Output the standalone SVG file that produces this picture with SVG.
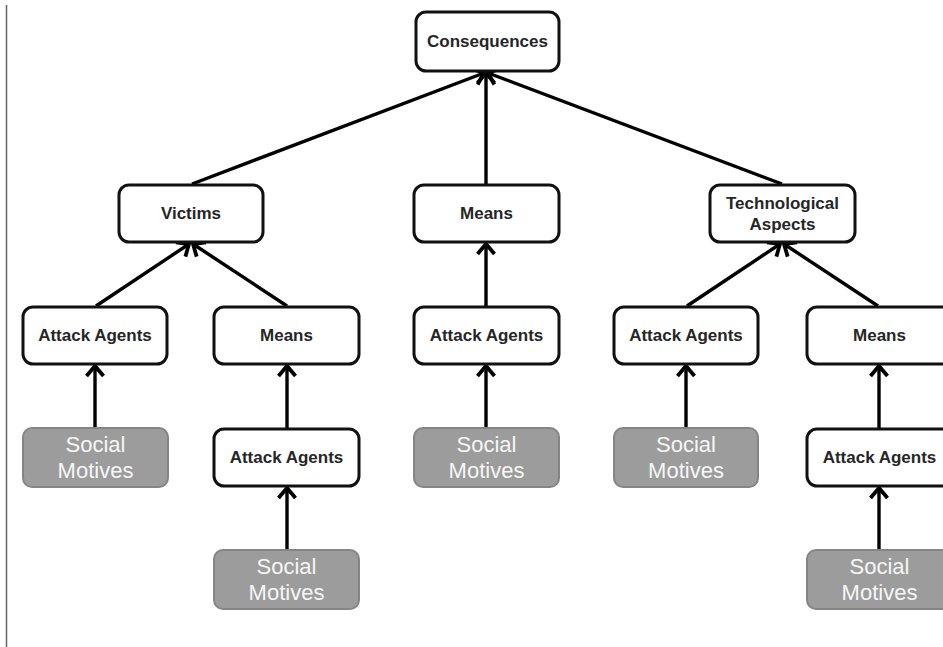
<svg xmlns="http://www.w3.org/2000/svg" width="943" height="647" viewBox="0 0 943 647">
  <style>
    .box { fill: #ffffff; stroke: #111111; stroke-width: 3; }
    .root { fill: #9c9c9c; stroke: #858585; stroke-width: 2; }
    .lbl { font-family: "Liberation Sans", Arial, sans-serif; font-weight: bold; font-size: 17px; fill: #262626; text-anchor: middle; }
    .root-lbl { font-family: "Liberation Sans", Arial, sans-serif; font-size: 22px; fill: #f7f7f7; text-anchor: middle; }
    .edge { stroke: #000000; stroke-width: 3.4; fill: none; marker-end: url(#chev); }
  </style>
  <defs>
    <marker id="chev" markerUnits="userSpaceOnUse" markerWidth="22" markerHeight="24" viewBox="-14 -12 16 24" refX="0" refY="0" orient="auto">
      <path d="M-10,-8.5 L0,0 L-10,8.5" fill="none" stroke="#000000" stroke-width="3.8" stroke-linejoin="miter"/>
    </marker>
  </defs>
  <rect width="943" height="647" fill="#ffffff"/>
  <!-- left margin rule -->
  <line x1="6.5" y1="5" x2="6.5" y2="647" stroke="#666666" stroke-width="1.5"/>

  <g id="connectors">
    <!-- into Consequences -->
    <line class="edge" x1="192" y1="184" x2="484" y2="73"/>
    <line class="edge" x1="486" y1="184" x2="486" y2="73"/>
    <line class="edge" x1="782" y1="184" x2="488" y2="73"/>
    <!-- into Victims -->
    <line class="edge" x1="96" y1="306" x2="189" y2="244"/>
    <line class="edge" x1="287" y1="306" x2="193" y2="244"/>
    <!-- into Means (middle) -->
    <line class="edge" x1="486" y1="306" x2="486" y2="244"/>
    <!-- into Technological Aspects -->
    <line class="edge" x1="687" y1="306" x2="780" y2="244"/>
    <line class="edge" x1="878" y1="306" x2="784" y2="244"/>
    <!-- vertical chains -->
    <line class="edge" x1="95" y1="428" x2="95" y2="366"/>
    <line class="edge" x1="287" y1="428" x2="287" y2="366"/>
    <line class="edge" x1="287" y1="550" x2="287" y2="488"/>
    <line class="edge" x1="486" y1="428" x2="486" y2="366"/>
    <line class="edge" x1="686" y1="428" x2="686" y2="366"/>
    <line class="edge" x1="879" y1="428" x2="879" y2="366"/>
    <line class="edge" x1="879" y1="550" x2="879" y2="488"/>
  </g>

  <g id="consequences">
    <rect class="box" x="416" y="12" width="143" height="59" rx="10"/>
    <text class="lbl" x="487.5" y="47">Consequences</text>
  </g>

  <g id="victims">
    <rect class="box" x="119" y="185" width="144" height="57" rx="10"/>
    <text class="lbl" x="191" y="219">Victims</text>
  </g>
  <g id="means-mid">
    <rect class="box" x="414" y="185" width="145" height="57" rx="10"/>
    <text class="lbl" x="486.5" y="219">Means</text>
  </g>
  <g id="tech-aspects">
    <rect class="box" x="710" y="185" width="145" height="57" rx="10"/>
    <text class="lbl" x="782.5" y="209">Technological</text>
    <text class="lbl" x="782.5" y="230">Aspects</text>
  </g>

  <g id="agents-1">
    <rect class="box" x="23" y="307" width="144" height="57" rx="10"/>
    <text class="lbl" x="95" y="341">Attack Agents</text>
  </g>
  <g id="means-2">
    <rect class="box" x="214" y="307" width="145" height="57" rx="10"/>
    <text class="lbl" x="286.5" y="341">Means</text>
  </g>
  <g id="agents-3">
    <rect class="box" x="414" y="307" width="145" height="57" rx="10"/>
    <text class="lbl" x="486.5" y="341">Attack Agents</text>
  </g>
  <g id="agents-4">
    <rect class="box" x="614" y="307" width="144" height="57" rx="10"/>
    <text class="lbl" x="686" y="341">Attack Agents</text>
  </g>
  <g id="means-5">
    <rect class="box" x="807" y="307" width="145" height="57" rx="10"/>
    <text class="lbl" x="879.5" y="341">Means</text>
  </g>

  <g id="motives-1">
    <rect class="root" x="23" y="428" width="145" height="59" rx="9"/>
    <text class="root-lbl" x="95.5" y="452">Social</text>
    <text class="root-lbl" x="95.5" y="478">Motives</text>
  </g>
  <g id="agents-2">
    <rect class="box" x="214" y="429" width="145" height="57" rx="10"/>
    <text class="lbl" x="286.5" y="463">Attack Agents</text>
  </g>
  <g id="motives-3">
    <rect class="root" x="414" y="428" width="145" height="59" rx="9"/>
    <text class="root-lbl" x="486.5" y="452">Social</text>
    <text class="root-lbl" x="486.5" y="478">Motives</text>
  </g>
  <g id="motives-4">
    <rect class="root" x="614" y="428" width="144" height="59" rx="9"/>
    <text class="root-lbl" x="686" y="452">Social</text>
    <text class="root-lbl" x="686" y="478">Motives</text>
  </g>
  <g id="agents-5">
    <rect class="box" x="807" y="429" width="145" height="57" rx="10"/>
    <text class="lbl" x="879.5" y="463">Attack Agents</text>
  </g>

  <g id="motives-2">
    <rect class="root" x="214" y="550" width="145" height="59" rx="9"/>
    <text class="root-lbl" x="286.5" y="574">Social</text>
    <text class="root-lbl" x="286.5" y="600">Motives</text>
  </g>
  <g id="motives-5">
    <rect class="root" x="807" y="550" width="145" height="59" rx="9"/>
    <text class="root-lbl" x="879.5" y="574">Social</text>
    <text class="root-lbl" x="879.5" y="600">Motives</text>
  </g>
</svg>
